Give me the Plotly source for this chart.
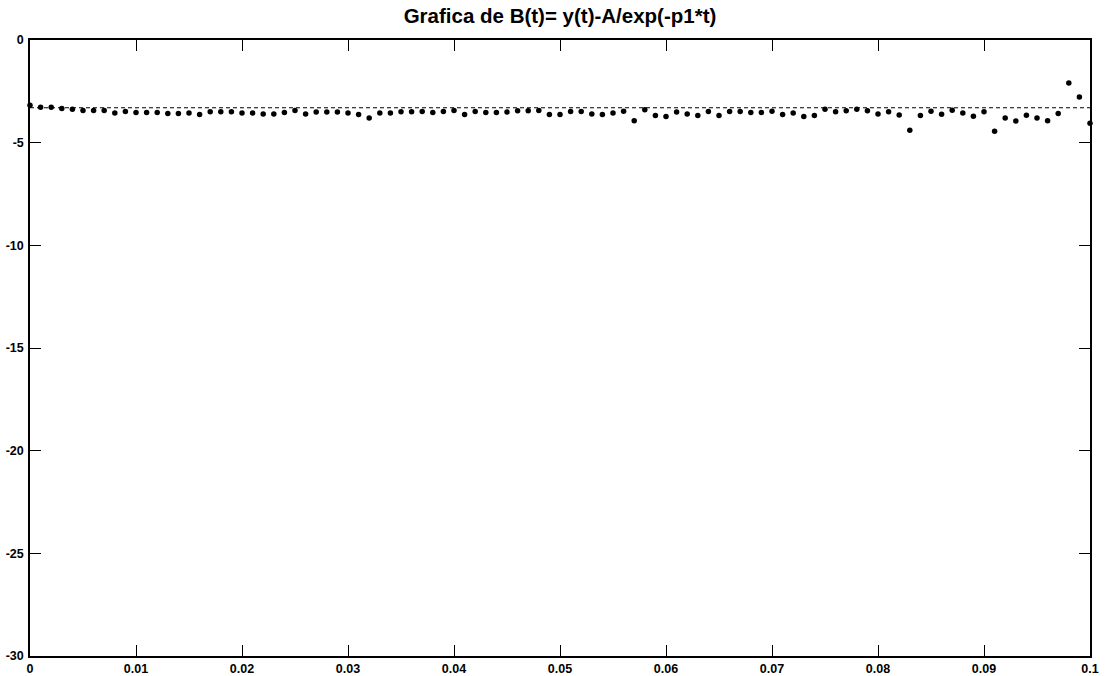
import plotly.graph_objects as go

# time samples (s)
t = [0.000, 0.001, 0.002, 0.003, 0.004, 0.005, 0.006, 0.007, 0.008, 0.009,
     0.010, 0.011, 0.012, 0.013, 0.014, 0.015, 0.016, 0.017, 0.018, 0.019,
     0.020, 0.021, 0.022, 0.023, 0.024, 0.025, 0.026, 0.027, 0.028, 0.029,
     0.030, 0.031, 0.032, 0.033, 0.034, 0.035, 0.036, 0.037, 0.038, 0.039,
     0.040, 0.041, 0.042, 0.043, 0.044, 0.045, 0.046, 0.047, 0.048, 0.049,
     0.050, 0.051, 0.052, 0.053, 0.054, 0.055, 0.056, 0.057, 0.058, 0.059,
     0.060, 0.061, 0.062, 0.063, 0.064, 0.065, 0.066, 0.067, 0.068, 0.069,
     0.070, 0.071, 0.072, 0.073, 0.074, 0.075, 0.076, 0.077, 0.078, 0.079,
     0.080, 0.081, 0.082, 0.083, 0.084, 0.085, 0.086, 0.087, 0.088, 0.089,
     0.090, 0.091, 0.092, 0.093, 0.094, 0.095, 0.096, 0.097, 0.098, 0.099,
     0.100]

# B(t) values
B = [-3.18, -3.28, -3.27, -3.33, -3.37, -3.43, -3.43, -3.43, -3.56, -3.48,
     -3.53, -3.53, -3.53, -3.58, -3.58, -3.56, -3.63, -3.50, -3.50, -3.50,
     -3.56, -3.56, -3.60, -3.60, -3.53, -3.43, -3.60, -3.51, -3.51, -3.51,
     -3.56, -3.63, -3.80, -3.55, -3.55, -3.50, -3.50, -3.48, -3.53, -3.48,
     -3.43, -3.63, -3.48, -3.53, -3.53, -3.51, -3.45, -3.45, -3.43, -3.63,
     -3.63, -3.48, -3.48, -3.60, -3.63, -3.55, -3.47, -3.93, -3.40, -3.68,
     -3.73, -3.51, -3.60, -3.68, -3.48, -3.68, -3.48, -3.48, -3.53, -3.53,
     -3.47, -3.63, -3.56, -3.73, -3.68, -3.37, -3.50, -3.45, -3.37, -3.45,
     -3.60, -3.50, -3.65, -4.39, -3.68, -3.47, -3.61, -3.42, -3.56, -3.71,
     -3.50, -4.45, -3.80, -3.94, -3.66, -3.80, -3.93, -3.58, -2.10, -2.77,
     -4.06]

# reference level (dashed)
ref_x = [0.0, 0.1]
ref_y = [-3.3, -3.3]

x_ticks = [0, 0.01, 0.02, 0.03, 0.04, 0.05, 0.06, 0.07, 0.08, 0.09, 0.1]
x_labels = ["0", "0.01", "0.02", "0.03", "0.04", "0.05", "0.06", "0.07", "0.08", "0.09", "0.1"]
y_ticks = [0, -5, -10, -15, -20, -25, -30]
y_labels = ["0", "-5", "-10", "-15", "-20", "-25", "-30"]

font_family = "Liberation Sans, Arial, sans-serif"

fig = go.Figure()
fig.add_trace(go.Scatter(
    x=ref_x, y=ref_y, mode="lines",
    line=dict(color="black", width=1, dash="4px,3px"),
    hoverinfo="skip", showlegend=False, cliponaxis=False,
))
fig.add_trace(go.Scatter(
    x=t, y=B, mode="markers",
    marker=dict(color="black", size=5.5, line=dict(width=0)),
    showlegend=False, cliponaxis=False,
))

axis_common = dict(
    showline=True, linecolor="black", linewidth=1.5, mirror="ticks",
    ticks="inside", ticklen=11, tickwidth=1, tickcolor="black",
    showgrid=False, zeroline=False, automargin=False,
    tickfont=dict(family=font_family, size=12.5, color="black", weight="bold"),
)

fig.update_layout(
    width=1108, height=676,
    margin=dict(l=30, r=18, t=40, b=20),
    paper_bgcolor="white", plot_bgcolor="white",
    title=dict(
        text="<b>Grafica de B(t)= y(t)-A/exp(-p1*t)</b>",
        x=0.5, xref="paper", xanchor="center",
        y=1 - 16 / 676, yanchor="middle",
        font=dict(family=font_family, size=20.5, color="black"),
    ),
    xaxis=dict(range=[0, 0.1], tickvals=x_ticks, ticktext=x_labels,
               ticklabelstandoff=0, **axis_common),
    yaxis=dict(range=[-30, 0], tickvals=y_ticks, ticktext=y_labels,
               ticklabelstandoff=2, **axis_common),
)

fig.write_html("out.html")
